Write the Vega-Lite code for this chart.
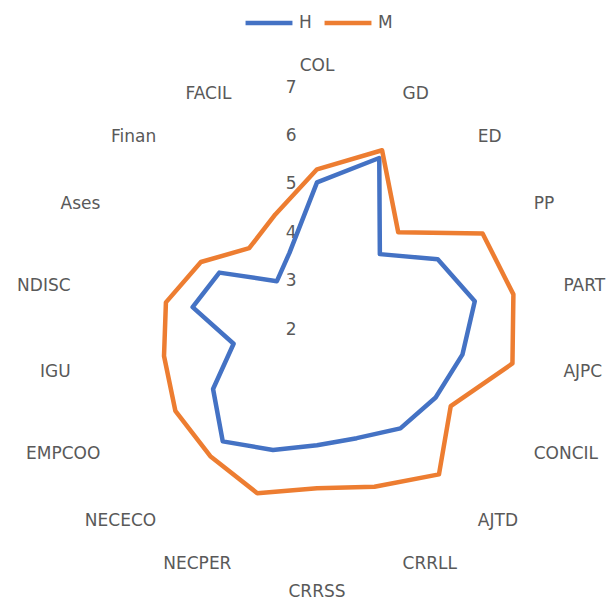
{
  "$schema": "https://vega.github.io/schema/vega-lite/v6.json",
  "width": 614,
  "height": 600,
  "padding": 0,
  "autosize": {"type": "none"},
  "background": "white",
  "config": {"view": {"stroke": null}, "font": "DejaVu Sans"},
  "data": {"values": [
    {"cat": "COL", "series": "H", "value": 5.03},
    {"cat": "GD", "series": "H", "value": 5.76},
    {"cat": "ED", "series": "H", "value": 4.02},
    {"cat": "PP", "series": "H", "value": 4.88},
    {"cat": "PART", "series": "H", "value": 5.31},
    {"cat": "AJPC", "series": "H", "value": 5.05},
    {"cat": "CONCIL", "series": "H", "value": 4.83},
    {"cat": "AJTD", "series": "H", "value": 4.68},
    {"cat": "CRRLL", "series": "H", "value": 4.40},
    {"cat": "CRRSS", "series": "H", "value": 4.40},
    {"cat": "NECPER", "series": "H", "value": 4.66},
    {"cat": "NECECO", "series": "H", "value": 5.03},
    {"cat": "EMPCOO", "series": "H", "value": 4.48},
    {"cat": "IGU", "series": "H", "value": 3.75},
    {"cat": "NDISC", "series": "H", "value": 4.61},
    {"cat": "Ases", "series": "H", "value": 4.33},
    {"cat": "Finan", "series": "H", "value": 3.29},
    {"cat": "FACIL", "series": "H", "value": 3.67},
    {"cat": "COL", "series": "M", "value": 5.30},
    {"cat": "GD", "series": "M", "value": 5.93},
    {"cat": "ED", "series": "M", "value": 4.61},
    {"cat": "PP", "series": "M", "value": 5.95},
    {"cat": "PART", "series": "M", "value": 6.12},
    {"cat": "AJPC", "series": "M", "value": 6.10},
    {"cat": "CONCIL", "series": "M", "value": 5.19},
    {"cat": "AJTD", "series": "M", "value": 5.92},
    {"cat": "CRRLL", "series": "M", "value": 5.47},
    {"cat": "CRRSS", "series": "M", "value": 5.29},
    {"cat": "NECPER", "series": "M", "value": 5.61},
    {"cat": "NECECO", "series": "M", "value": 5.43},
    {"cat": "EMPCOO", "series": "M", "value": 5.38},
    {"cat": "IGU", "series": "M", "value": 5.21},
    {"cat": "NDISC", "series": "M", "value": 5.17},
    {"cat": "Ases", "series": "M", "value": 4.77},
    {"cat": "Finan", "series": "M", "value": 4.18},
    {"cat": "FACIL", "series": "M", "value": 4.52}
  ]},
  "transform": [
    {"window": [{"op": "row_number", "as": "idx"}], "groupby": ["series"]},
    {"calculate": "2*PI*(datum.idx-1)/18", "as": "ang"},
    {"calculate": "(datum.value-2)*sin(datum.ang)", "as": "px"},
    {"calculate": "(datum.value-2)*cos(datum.ang)", "as": "py"}
  ],
  "encoding": {
    "x": {"field": "px", "type": "quantitative", "scale": {"domain": [-6.55, 6.136], "nice": false, "zero": false}, "axis": null},
    "y": {"field": "py", "type": "quantitative", "scale": {"domain": [-5.599, 6.798], "nice": false, "zero": false},
      "axis": {"values": [0, 1, 2, 3, 4, 5], "labelExpr": "datum.value + 2", "domain": false, "ticks": false, "tickSize": 0, "grid": false, "title": null, "offset": -296, "labelPadding": 0, "labelFontSize": 17, "labelColor": "#595959", "labelFont": "DejaVu Sans"}}
  },
  "layer": [
    {
      "mark": {"type": "line", "interpolate": "linear-closed", "strokeWidth": 4.5, "strokeJoin": "round"},
      "encoding": {
        "color": {"field": "series", "type": "nominal", "scale": {"domain": ["H", "M"], "range": ["#4472C4", "#ED7D31"]},
          "legend": {"orient": "none", "legendX": 243, "legendY": -3, "direction": "horizontal", "title": null, "symbolType": "stroke", "symbolSize": 2200, "symbolStrokeWidth": 4.5, "labelFontSize": 17, "labelColor": "#595959", "labelFont": "DejaVu Sans", "columnPadding": 3, "gridAlign": "none", "labelOffset": 4, "padding": 0}},
        "order": {"field": "idx", "type": "quantitative"}
      }
    },
    {
      "transform": [
        {"filter": "datum.series == 'H' && datum.idx >= 2 && datum.idx <= 9"},
        {"calculate": "5.17*sin(datum.ang)", "as": "px"},
        {"calculate": "5.17*cos(datum.ang)", "as": "py"}
      ],
      "mark": {"type": "text", "align": "left", "baseline": "middle", "fontSize": 17, "fill": "#595959"},
      "encoding": {"text": {"field": "cat"}}
    },
    {
      "transform": [
        {"filter": "datum.series == 'H' && datum.idx >= 11"},
        {"calculate": "5.17*sin(datum.ang)", "as": "px"},
        {"calculate": "5.17*cos(datum.ang)", "as": "py"}
      ],
      "mark": {"type": "text", "align": "right", "baseline": "middle", "fontSize": 17, "fill": "#595959"},
      "encoding": {"text": {"field": "cat"}}
    },
    {
      "transform": [
        {"filter": "datum.series == 'H' && (datum.idx == 1 || datum.idx == 10)"},
        {"calculate": "5.44*sin(datum.ang)", "as": "px"},
        {"calculate": "5.44*cos(datum.ang)", "as": "py"}
      ],
      "mark": {"type": "text", "align": "center", "baseline": "middle", "fontSize": 17, "fill": "#595959"},
      "encoding": {"text": {"field": "cat"}}
    }
  ]
}
